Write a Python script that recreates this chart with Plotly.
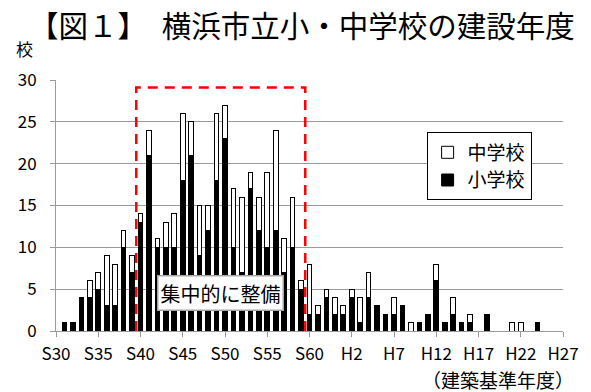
import plotly.graph_objects as go

# Construction year (Western calendar) of each Yokohama municipal school
years = list(range(1955, 2016))

# Number of elementary schools (小学校) built per year
elementary = [0, 1, 1, 4, 4, 5, 3, 3, 10, 7,
              13, 21, 10, 10, 10, 18, 21, 9, 12, 18,
              23, 10, 7, 17, 12, 10, 12, 7, 10, 5,
              2, 2, 4, 2, 2, 4, 1, 4, 3, 2,
              2, 3, 0, 1, 2, 6, 1, 2, 1, 1,
              0, 2, 0, 0, 0, 0, 0, 1, 0, 0,
              0]

# Number of junior high schools (中学校) built per year
junior_high = [0, 0, 0, 0, 2, 2, 6, 5, 2, 2,
               1, 3, 1, 3, 4, 8, 4, 6, 3, 8,
               4, 7, 9, 2, 4, 9, 12, 4, 6, 1,
               6, 1, 1, 2, 1, 1, 3, 3, 0, 0,
               2, 0, 1, 0, 0, 2, 0, 2, 0, 1,
               0, 0, 0, 0, 1, 1, 0, 0, 0, 0,
               0]

# Axis ticks: Japanese era labels every five years
tick_years = list(range(1955, 2016, 5))
tick_labels = ["S30", "S35", "S40", "S45", "S50", "S55", "S60",
               "H2", "H7", "H12", "H17", "H22", "H27"]

# Period of concentrated construction (first and last year)
focus_first, focus_last = 1965, 1984

FONT = "Noto Sans CJK JP"
GRID = "#9a9a9a"


def nonzero(values):
    return [v if v else None for v in values]


fig = go.Figure()
fig.add_trace(go.Bar(
    x=years, y=nonzero(elementary), name="小学校",
    width=0.55,
    marker=dict(color="black", line=dict(color="black", width=1)),
))
fig.add_trace(go.Bar(
    x=years, y=nonzero(junior_high), name="中学校",
    width=0.55,
    marker=dict(color="white", line=dict(color="black", width=1)),
))

# Red dashed frame around the concentrated-construction period
x0, x1 = focus_first - 0.5, focus_last + 0.5
top = 29.1
fig.add_shape(
    type="path",
    path=f"M {x0},0 L {x0},{top} L {x1},{top} L {x1},0",
    xref="x", yref="y",
    line=dict(color="#ff0000", width=2.5, dash="10px,7px"),
)

fig.add_annotation(
    x=(focus_first + focus_last) / 2, y=4.55, xref="x", yref="y",
    text="集中的に整備", showarrow=False,
    font=dict(family=FONT, size=20, color="black"),
    bgcolor="white", bordercolor="#a6a6a6", borderwidth=1.5, borderpad=2,
)

# Title and axis captions
fig.add_annotation(
    x=-0.057, y=1.222, xref="paper", yref="paper",
    xanchor="left", yanchor="middle",
    text="【図１】　横浜市立小・中学校の建設年度", showarrow=False,
    font=dict(family=FONT, size=29.5, color="black"),
)
fig.add_annotation(
    x=-0.063, y=1.125, xref="paper", yref="paper",
    xanchor="center", yanchor="middle",
    text="校", showarrow=False,
    font=dict(family=FONT, size=17, color="black"),
)
fig.add_annotation(
    x=0.872, y=-0.192, xref="paper", yref="paper",
    xanchor="center", yanchor="middle",
    text="（建築基準年度）", showarrow=False,
    font=dict(family=FONT, size=19, color="black"),
)

fig.update_layout(
    width=591, height=392,
    margin=dict(l=56, r=26, t=80, b=61),
    barmode="stack",
    paper_bgcolor="white", plot_bgcolor="white",
    font=dict(family=FONT, color="black"),
    showlegend=True,
    legend=dict(
        x=0.731, y=0.791, xanchor="left", yanchor="top",
        bgcolor="white", bordercolor="black", borderwidth=1,
        font=dict(family=FONT, size=19, color="black"),
        traceorder="reversed", itemwidth=30,
    ),
    xaxis=dict(
        range=[1955, 2015], tickmode="array",
        tickvals=tick_years, ticktext=tick_labels,
        ticks="outside", ticklen=5, tickcolor=GRID,
        showline=True, linecolor=GRID, linewidth=1,
        showgrid=False, zeroline=False,
        tickfont=dict(family=FONT, size=17, color="black"),
        ticklabelstandoff=3,
    ),
    yaxis=dict(
        range=[0, 30], dtick=5, tick0=0,
        ticks="outside", ticklen=5, tickcolor=GRID,
        showline=True, linecolor=GRID, linewidth=1,
        showgrid=True, gridcolor=GRID, gridwidth=1,
        zeroline=False,
        tickfont=dict(family=FONT, size=17, color="black"),
        ticklabelstandoff=10,
    ),
)

fig.write_html("out.html")
